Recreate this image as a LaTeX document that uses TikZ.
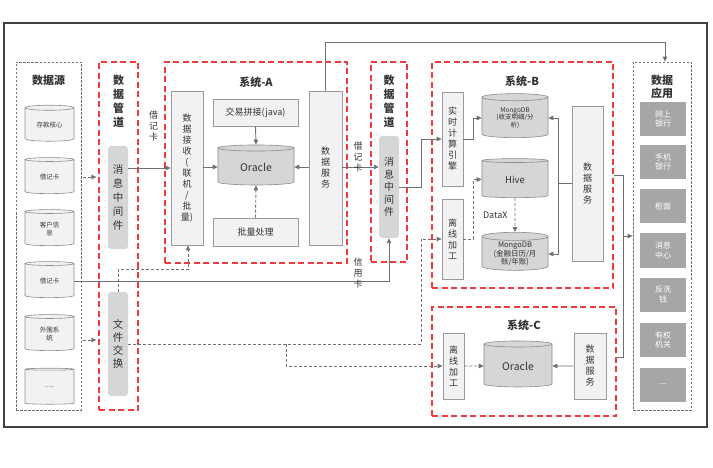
\documentclass[tikz,border=0pt]{standalone}
\usepackage{fontspec}
\newfontfamily\cjk{Noto Sans CJK SC}
\usetikzlibrary{shapes.geometric,arrows.meta,positioning}

\definecolor{dashred}{HTML}{EE3B3B}
\definecolor{linegray}{HTML}{707070}
\definecolor{boxgray}{HTML}{F2F2F2}
\definecolor{cylgray}{HTML}{D6D6D6}
\definecolor{appgray}{HTML}{A6A6A6}
\definecolor{txt}{HTML}{333333}

\begin{document}
\begin{tikzpicture}[x=1pt,y=-1pt,font=\cjk\fontsize{9}{11}\selectfont,
  every node/.style={text=txt,inner sep=1pt,align=center},
  redgrp/.style={draw=dashred,line width=1.3pt,dash pattern=on 6pt off 3.5pt},
  graygrp/.style={draw=linegray,line width=0.8pt,dash pattern=on 2.5pt off 1.5pt},
  sz/.style 2 args={minimum width=#1,minimum height=#2},
  lightbox/.style={draw=black!40,fill=boxgray,line width=0.8pt},
  pipebox/.style={fill=cylgray,rounded corners=3pt},
  db/.style={cylinder,shape border rotate=90,aspect=0.18,draw=black!45,fill=cylgray,line width=0.6pt},
  srcdb/.style={db,fill=boxgray,font=\cjk\fontsize{6.5}{7.5}\selectfont},
  appbox/.style={fill=appgray,text=white,font=\cjk\fontsize{8}{9.5}\selectfont},
  ttl/.style={font=\cjk\bfseries\fontsize{11}{14}\selectfont},
  conn/.style={draw=linegray,line width=0.9pt,-{Triangle[length=5pt,width=4.5pt]}},
  dconn/.style={conn,dash pattern=on 3pt off 2pt},
]
\useasboundingbox (0,0) rectangle (713,468);
\draw[black!75,line width=1.2pt] (4,23) rectangle (707,427);

% data sources
\node[graygrp,sz={65}{348}] (src) at (48.5,236) {};
\node[ttl] at (48.5,80) {数据源};
\node[srcdb,sz={49}{36}] (s1) at (49.5,125) {存款核心};
\node[srcdb,sz={49}{36}] (s2) at (49.5,177) {借记卡};
\node[srcdb,sz={49}{36}] (s3) at (49.5,229) {客户信\\息};
\node[srcdb,sz={49}{36}] (s4) at (49.5,281) {借记卡};
\node[srcdb,sz={49}{36}] (s5) at (49.5,334) {外围系\\统};
\node[srcdb,sz={49}{36}] (s6) at (49.5,387) {.....};

% data pipeline A
\node[redgrp,sz={39}{348}] (pipeA) at (118.5,236) {};
\node[ttl] at (118.5,101) {数\\据\\管\\道};
\node[pipebox,sz={20}{103},font=\cjk\fontsize{10.5}{14}\selectfont] (mq1) at (118,197.5) {消\\息\\中\\间\\件};
\node[pipebox,sz={20}{104},font=\cjk\fontsize{10.5}{13}\selectfont] (fx) at (118,344) {文\\件\\交\\换};

% system A
\node[redgrp,sz={182}{201}] (sysA) at (256,162.5) {};
\node[ttl] at (256,82) {系统-A};
\node[lightbox,sz={32}{154}] (recv) at (187,168) {数\\据\\接\\收\\(\\联\\机\\/\\批\\量)};
\node[lightbox,sz={85}{27}] (join) at (255.5,112.5) {交易拼接(java)};
\node[db,sz={76}{40},font=\cjk\fontsize{10.5}{12}\selectfont] (oraA) at (256,167) {Oracle};
\node[lightbox,sz={85}{28}] (batch) at (255.5,232) {批量处理};
\node[lightbox,sz={33}{154}] (svcA) at (325.5,168) {数\\据\\服\\务};

% data pipeline B
\node[redgrp,sz={36}{200}] (pipeB) at (389,162) {};
\node[ttl] at (389,101) {数\\据\\管\\道};
\node[pipebox,sz={20}{102},font=\cjk\fontsize{10}{12.5}\selectfont] (mq2) at (389,187) {消\\息\\中\\间\\件};

% system B
\node[redgrp,sz={181}{226}] (sysB) at (522.5,175) {};
\node[ttl] at (522,81) {系统-B};
\node[lightbox,sz={21}{94}] (rt) at (452.5,139) {实\\时\\计\\算\\引\\擎};
\node[lightbox,sz={21}{80}] (offB) at (452.5,239) {离\\线\\加\\工};
\node[db,sz={66}{44},font=\cjk\fontsize{6.5}{7.5}\selectfont] (mongo1) at (515,118) {MongoDB\\(收支明细/分\\析)};
\node[db,sz={66}{39},font=\cjk\fontsize{9.5}{11}\selectfont] (hive) at (515,179.5) {Hive};
\node[db,sz={66}{38},font=\cjk\fontsize{7.5}{8.5}\selectfont] (mongo2) at (515,254) {MongoDB\\(金融日历/月\\账/年账)};
\node[lightbox,sz={31}{155}] (svcB) at (587.5,183.5) {数\\据\\服\\务};

% system C
\node[redgrp,sz={184}{109}] (sysC) at (524,361.5) {};
\node[ttl] at (524,325) {系统-C};
\node[lightbox,sz={21}{66}] (offC) at (453.5,366) {离\\线\\加\\工};
\node[db,sz={68}{46},font=\cjk\fontsize{10.5}{12}\selectfont] (oraC) at (518,366) {Oracle};
\node[lightbox,sz={32}{66}] (svcC) at (590,366) {数\\据\\服\\务};

% data applications
\node[graygrp,sz={58}{348}] (app) at (662,236) {};
\node[ttl,font=\cjk\bfseries\fontsize{11}{13}\selectfont] at (662,87) {数据\\应用};
\node[appbox,sz={46}{34}] (a1) at (663,119) {网上\\银行};
\node[appbox,sz={46}{34}] (a2) at (663,162) {手机\\银行};
\node[appbox,sz={46}{34}] (a3) at (663,206) {柜面};
\node[appbox,sz={46}{34}] (a4) at (663,250.5) {消息\\中心};
\node[appbox,sz={46}{34}] (a5) at (663,294.5) {反洗\\钱};
\node[appbox,sz={46}{34}] (a6) at (663,340) {有权\\机关};
\node[appbox,sz={46}{34}] (a7) at (663,384.5) {...};

% connectors
\draw[dconn,shorten <=2pt,shorten >=2pt] (src.east |- s2) -- (pipeA.west |- s2);
\draw[dconn,shorten <=2pt,shorten >=2pt] (src.east |- 0,340) -- (pipeA.west |- 0,340);
\draw[conn] (mq1.east |- recv.west) -- node[above=25pt,pos=0.6]{借\\记\\卡} (recv.west);
\draw[conn] (recv.east |- oraA.west) -- (oraA.west);
\draw[conn] (svcA.west |- oraA.east) -- (oraA.east);
\draw[conn] (join.south) -- (oraA.north);
\draw[dconn] (batch.north) -- (oraA.south);
\draw[conn] (svcA.east |- oraA.east) -- node[pos=0.43,yshift=10pt]{借\\记\\卡} (mq2.west |- oraA.east);
\draw[conn] (svcA.north) -- ++(0,-48) -| ([xshift=3pt]app.north);
\draw[conn] (mq2.east) -- ++(22,0) |- (rt.west);
\draw[conn] (s4.east) -| (mq2.south);
\node at (358,273) {信\\用\\卡};
\draw[dconn] (fx.north) -- ++(0,-22) -| ([xshift=1pt]recv.south);
\draw[dconn] (fx.east) -- ++(293,0) |- (offB.west);
\draw[dconn] (fx.east) ++(158,0) |- (offC.west);
\draw[dconn] (offC.east) -- (oraC.west);
\draw[conn] (svcC.west) -- (oraC.east);
\draw[conn] (rt.east) -- ++(10,0) |- (mongo1.west);
\draw[dconn] (offB.east) -- ++(10,0) |- (hive.west);
\draw[dconn] (hive.south) -- node[left=6pt]{DataX} (mongo2.north);
\draw[conn] (svcB.west) -- ++(-13,0) |- (mongo1.east);
\draw[conn] (svcB.west) -- ++(-13,0) |- (mongo2.east);
\draw[draw=linegray,line width=0.9pt] (sysB.east) -- ++(10,0) coordinate (bus) |- (sysC.east |- 0,357);
\draw[conn] (bus |- 0,236) -- (app.west |- 0,236);
\end{tikzpicture}
\end{document}
